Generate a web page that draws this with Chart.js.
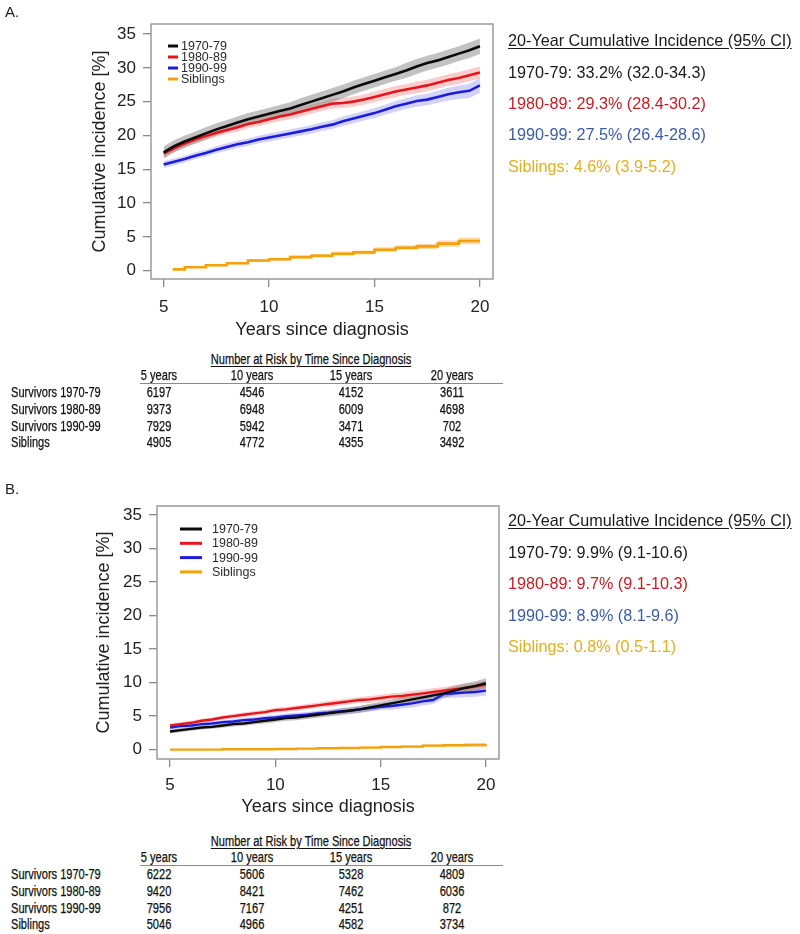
<!DOCTYPE html>
<html><head><meta charset="utf-8">
<script src="https://cdn.jsdelivr.net/npm/chart.js@4.4.1/dist/chart.umd.min.js"></script>
<style>
body{margin:0;background:#fff;}
#page{position:relative;width:800px;height:934px;overflow:hidden;font-family:"Liberation Sans",Arial,sans-serif;background:#fff;}
.t{position:absolute;white-space:nowrap;}
.cv{position:absolute;}
.tbl{font-family:"Liberation Sans",Arial,sans-serif;font-size:14px;color:#111;-webkit-text-stroke:0.25px #111;}
</style></head>
<body><div id="page">
<canvas id="chartA" class="cv" width="520" height="341" style="left:0;top:0"></canvas>
<canvas id="chartB" class="cv" width="530" height="338" style="left:0;top:480px"></canvas>
</div>
<script>
// ---------- DATA ----------
const xTicks = [5, 10, 15, 20];
const yTicks = [0, 5, 10, 15, 20, 25, 30, 35];
const seriesLabels = ["1970-79", "1980-89", "1990-99", "Siblings"];
const gridX = [5,5.5,6,6.5,7,7.5,8,8.5,9,9.5,10,10.5,11,11.5,12,12.5,13,13.5,14,14.5,15,15.5,16,16.5,17,17.5,18,18.5,19,19.5,20];

// Panel A
const a1970 = [17.5,18.4,19.1,19.7,20.3,20.9,21.4,21.9,22.4,22.8,23.2,23.6,24.0,24.5,25.0,25.5,26.0,26.5,27.1,27.6,28.1,28.6,29.1,29.6,30.2,30.7,31.1,31.6,32.1,32.6,33.2];
const a1980 = [17.3,18.1,18.8,19.4,19.9,20.4,20.8,21.2,21.7,22.0,22.4,22.8,23.1,23.5,23.9,24.3,24.7,24.8,25.0,25.3,25.7,26.1,26.5,26.8,27.1,27.4,27.8,28.2,28.5,28.9,29.3];
const a1990 = [15.7,16.1,16.5,17.0,17.4,17.9,18.3,18.7,19.0,19.4,19.7,20.0,20.3,20.6,20.9,21.3,21.6,22.1,22.5,22.9,23.3,23.8,24.3,24.7,25.1,25.3,25.7,26.1,26.4,26.6,27.4];
const a1970ci = [0.9,0.9,0.9,0.9,0.9,0.9,0.9,0.9,0.9,0.9,0.9,0.9,0.9,1.0,1.0,1.0,1.0,1.0,1.0,1.0,1.0,1.0,1.0,1.1,1.1,1.1,1.1,1.1,1.1,1.15,1.15];
const a1980ci = [0.6,0.6,0.6,0.6,0.6,0.6,0.6,0.65,0.65,0.65,0.65,0.7,0.7,0.7,0.7,0.7,0.75,0.75,0.75,0.75,0.8,0.8,0.8,0.8,0.85,0.85,0.85,0.85,0.9,0.9,0.9];
const a1990ci = [0.5,0.5,0.5,0.5,0.5,0.5,0.55,0.55,0.55,0.55,0.6,0.6,0.6,0.6,0.65,0.65,0.65,0.7,0.7,0.7,0.75,0.75,0.8,0.8,0.85,0.85,0.9,0.95,1.0,1.05,1.1];
const aSibX = [5.43,6,7,8,9,10,11,12,13,14,15,16,17,18,19,20];
const aSib = [0.2,0.5,0.8,1.1,1.5,1.7,2.0,2.2,2.5,2.7,3.1,3.4,3.6,4.0,4.4,4.4];
const aSibCi = [0.1,0.1,0.15,0.15,0.2,0.2,0.25,0.25,0.3,0.3,0.35,0.35,0.4,0.45,0.5,0.55];

// Panel B
const b1970 = [2.7,2.9,3.1,3.3,3.4,3.6,3.8,3.9,4.1,4.3,4.5,4.7,4.8,5.0,5.2,5.4,5.6,5.8,6.0,6.3,6.6,6.9,7.2,7.5,7.8,8.1,8.4,8.8,9.2,9.5,9.9];
const b1980 = [3.6,3.8,4.0,4.3,4.5,4.8,5.0,5.2,5.4,5.6,5.9,6.0,6.2,6.4,6.6,6.8,7.0,7.2,7.4,7.5,7.7,7.9,8.0,8.2,8.4,8.6,8.8,9.0,9.2,9.4,9.7];
const b1990 = [3.3,3.5,3.6,3.8,3.9,4.1,4.2,4.4,4.5,4.7,4.8,5.0,5.1,5.2,5.4,5.5,5.7,5.8,6.0,6.2,6.4,6.5,6.7,6.9,7.2,7.4,8.3,8.4,8.5,8.6,8.8];
const b1970ci = [0.3,0.3,0.3,0.3,0.3,0.35,0.35,0.35,0.35,0.4,0.4,0.4,0.4,0.45,0.45,0.45,0.5,0.5,0.5,0.55,0.55,0.55,0.6,0.6,0.6,0.65,0.65,0.7,0.7,0.7,0.75];
const b1980ci = [0.3,0.3,0.3,0.3,0.3,0.3,0.35,0.35,0.35,0.35,0.4,0.4,0.4,0.4,0.4,0.45,0.45,0.45,0.45,0.5,0.5,0.5,0.5,0.55,0.55,0.55,0.55,0.6,0.6,0.6,0.6];
const b1990ci = [0.3,0.3,0.3,0.3,0.3,0.3,0.35,0.35,0.35,0.35,0.4,0.4,0.4,0.4,0.45,0.45,0.45,0.5,0.5,0.5,0.5,0.55,0.55,0.6,0.6,0.6,0.65,0.65,0.7,0.7,0.75];
const bSibX = [5,7.5,10,11,12,13,14,15,16,17,18,19,20];
const bSib = [0.0,0.05,0.1,0.15,0.2,0.25,0.3,0.4,0.45,0.6,0.65,0.7,0.8];
const bSibCi = [0.03,0.05,0.08,0.1,0.1,0.12,0.15,0.15,0.18,0.2,0.22,0.25,0.3];

// Text panels
const ciTitle = "20-Year Cumulative Incidence (95% CI)";
const ciTextA = ["1970-79: 33.2% (32.0-34.3)", "1980-89: 29.3% (28.4-30.2)", "1990-99: 27.5% (26.4-28.6)", "Siblings: 4.6% (3.9-5.2)"];
const ciTextB = ["1970-79: 9.9% (9.1-10.6)", "1980-89: 9.7% (9.1-10.3)", "1990-99: 8.9% (8.1-9.6)", "Siblings: 0.8% (0.5-1.1)"];
const riskTitle = "Number at Risk by Time Since Diagnosis";
const riskCols = ["5 years", "10 years", "15 years", "20 years"];
const riskRows = ["Survivors 1970-79", "Survivors 1980-89", "Survivors 1990-99", "Siblings"];
const riskA = [[6197,4546,4152,3611],[9373,6948,6009,4698],[7929,5942,3471,702],[4905,4772,4355,3492]];
const riskB = [[6222,5606,5328,4809],[9420,8421,7462,6036],[7956,7167,4251,872],[5046,4966,4582,3734]];

// ---------- STYLE ----------
const FONT = '"Liberation Sans", Arial, sans-serif';
const lineColors = ['#0a0a0a', '#e8141c', '#1c1cdc', '#f5a10a'];
const bandColors = ['rgba(120,120,120,0.45)', 'rgba(240,100,100,0.32)', 'rgba(110,110,240,0.30)', 'rgba(245,165,30,0.38)'];
const textColors = ['#1a1a1a', '#c41e24', '#3c5ca8', '#e0b020'];

const boxPlugin = {
  id: 'rbox',
  afterDatasetsDraw(chart, args, opts) {
    const {ctx, chartArea: a} = chart;
    ctx.save();
    ctx.strokeStyle = '#9a9a9a'; ctx.lineWidth = 1.5;
    ctx.strokeRect(a.left, a.top, a.right - a.left, a.bottom - a.top);
    const L = opts;
    ctx.font = L.fontSize + 'px ' + FONT;
    ctx.textBaseline = 'middle'; ctx.textAlign = 'left';
    seriesLabels.forEach((lab, i) => {
      const y = a.top + L.y0 + i * L.dy;
      ctx.strokeStyle = lineColors[i]; ctx.lineWidth = 3;
      ctx.beginPath(); ctx.moveTo(a.left + L.x0, y); ctx.lineTo(a.left + L.x1, y); ctx.stroke();
      ctx.fillStyle = '#2a2a2a';
      ctx.fillText(lab, a.left + L.tx, y + 0.5);
    });
    ctx.restore();
  }
};

function makeChart(id, c) {
  const ds = [];
  c.series.forEach((s, i) => {
    ds.push({label: seriesLabels[i], data: s.y.map((v, j) => ({x: s.x[j], y: v})),
      borderColor: lineColors[i], borderWidth: c.lw, pointRadius: 0, fill: false, stepped: s.stepped});
  });
  c.series.forEach((s, i) => {
    ds.push({data: s.y.map((v, j) => ({x: s.x[j], y: v - s.ci[j]})), borderWidth: 0, borderColor: 'transparent', pointRadius: 0, fill: false, stepped: s.stepped});
    ds.push({data: s.y.map((v, j) => ({x: s.x[j], y: v + s.ci[j]})), borderWidth: 0, borderColor: 'transparent', pointRadius: 0, fill: '-1', backgroundColor: bandColors[i], stepped: s.stepped});
  });
  const gridOpt = {display: true, drawOnChartArea: false, drawTicks: true, tickLength: 8, color: '#8a8a8a', lineWidth: 1.3};
  return new Chart(document.getElementById(id), {
    type: 'line',
    data: {datasets: ds},
    options: {
      responsive: false, animation: false, devicePixelRatio: 1,
      layout: {padding: c.pad},
      plugins: {legend: {display: false}, tooltip: {enabled: false}, rbox: c.legend},
      scales: {
        x: {type: 'linear', min: c.xmin, max: c.xmax,
          afterBuildTicks: sc => { sc.ticks = xTicks.map(v => ({value: v})); },
          afterFit: sc => { sc.height = c.xh; },
          grid: gridOpt, border: {display: false},
          ticks: {color: '#222', font: {size: 17, family: FONT}, padding: c.xpad, maxRotation: 0, autoSkip: false},
          title: {display: true, text: 'Years since diagnosis', color: '#222', font: {size: c.xtSize, family: FONT}, padding: 0}
        },
        y: {type: 'linear', min: c.ymin, max: c.ymax,
          afterBuildTicks: sc => { sc.ticks = yTicks.map(v => ({value: v})); },
          afterFit: sc => { sc.width = c.yw; },
          grid: gridOpt, border: {display: false},
          ticks: {color: '#222', font: {size: 17, family: FONT}, padding: 7, autoSkip: false},
          title: {display: true, text: 'Cumulative incidence [%]', color: '#222', font: {size: 18, family: FONT}, padding: 0}
        }
      }
    },
    plugins: [boxPlugin]
  });
}

makeChart('chartA', {
  pad: {left: 89, top: 24, right: 27, bottom: 0}, yw: 62, xh: 62,
  xmin: 4.40, xmax: 20.62, ymin: -1.23, ymax: 36.48, xpad: 10, xtSize: 18, lw: 2.6,
  legend: {x0: 17, x1: 27, tx: 30, y0: 22, dy: 11, fontSize: 12.5},
  series: [
    {x: gridX, y: a1970, ci: a1970ci, stepped: false},
    {x: gridX, y: a1980, ci: a1980ci, stepped: false},
    {x: gridX, y: a1990, ci: a1990ci, stepped: false},
    {x: aSibX, y: aSib, ci: aSibCi, stepped: 'before'}
  ]
});
makeChart('chartB', {
  pad: {left: 93, top: 26, right: 31, bottom: 0}, yw: 64, xh: 59,
  xmin: 4.38, xmax: 20.62, ymin: -1.4, ymax: 36.35, xpad: 8, xtSize: 18, lw: 2.4,
  legend: {x0: 23, x1: 45, tx: 55, y0: 23, dy: 14.3, fontSize: 12.5},
  series: [
    {x: gridX, y: b1970, ci: b1970ci, stepped: false},
    {x: gridX, y: b1980, ci: b1980ci, stepped: false},
    {x: gridX, y: b1990, ci: b1990ci, stepped: false},
    {x: bSibX, y: bSib, ci: bSibCi, stepped: 'before'}
  ]
});

// ---------- HTML TEXT ----------
const page = document.getElementById('page');
function txt(s, x, cy, opt) {
  const d = document.createElement('div');
  d.className = 't' + (opt.cls ? ' ' + opt.cls : '');
  const lh = opt.lh || 20;
  d.style.lineHeight = lh + 'px';
  d.style.top = (cy - lh / 2) + 'px';
  if (opt.size) d.style.fontSize = opt.size + 'px';
  if (opt.color) d.style.color = opt.color;
  if (opt.u) { d.style.textDecoration = 'underline'; d.style.textUnderlineOffset = '2px'; }
  if (opt.center) { d.style.left = (x - 200) + 'px'; d.style.width = '400px'; d.style.textAlign = 'center'; }
  else d.style.left = x + 'px';
  if (opt.sx) {
    d.style.transform = 'scaleX(' + opt.sx + ')';
    d.style.transformOrigin = opt.center ? '50% 50%' : '0 50%';
  }
  d.textContent = s;
  page.appendChild(d);
}
txt('A.', 5, 12, {size: 15, color: '#222'});
txt('B.', 5, 489, {size: 15, color: '#222'});

function ciBlock(lines, ys) {
  txt(ciTitle, 508, ys[0], {size: 16.2, color: '#1a1a1a', u: true});
  lines.forEach((s, i) => txt(s, 508, ys[i + 1], {size: 16.2, color: textColors[i]}));
}
ciBlock(ciTextA, [40, 72, 103, 134, 166]);
ciBlock(ciTextB, [520, 552, 583, 615, 646]);

const colX = [159, 252, 351, 452];
const SX = 0.79;
function riskTable(data, y0) {
  txt(riskTitle, 311, y0, {cls: 'tbl', center: true, u: true, lh: 16, sx: SX});
  riskCols.forEach((c, j) => txt(c, colX[j], y0 + 16, {cls: 'tbl', center: true, lh: 16, sx: SX}));
  const ln = document.createElement('div');
  ln.style.cssText = 'position:absolute;left:140px;width:363px;height:0;border-top:1px solid #8a8a8a;top:' + (y0 + 24) + 'px';
  page.appendChild(ln);
  riskRows.forEach((r, i) => {
    const y = y0 + 33 + i * 16.8;
    txt(r, 11, y, {cls: 'tbl', lh: 16, sx: SX});
    data[i].forEach((v, j) => txt(String(v), colX[j], y, {cls: 'tbl', center: true, lh: 16, sx: SX}));
  });
}
riskTable(riskA, 359);
riskTable(riskB, 841);
</script>
</body></html>
